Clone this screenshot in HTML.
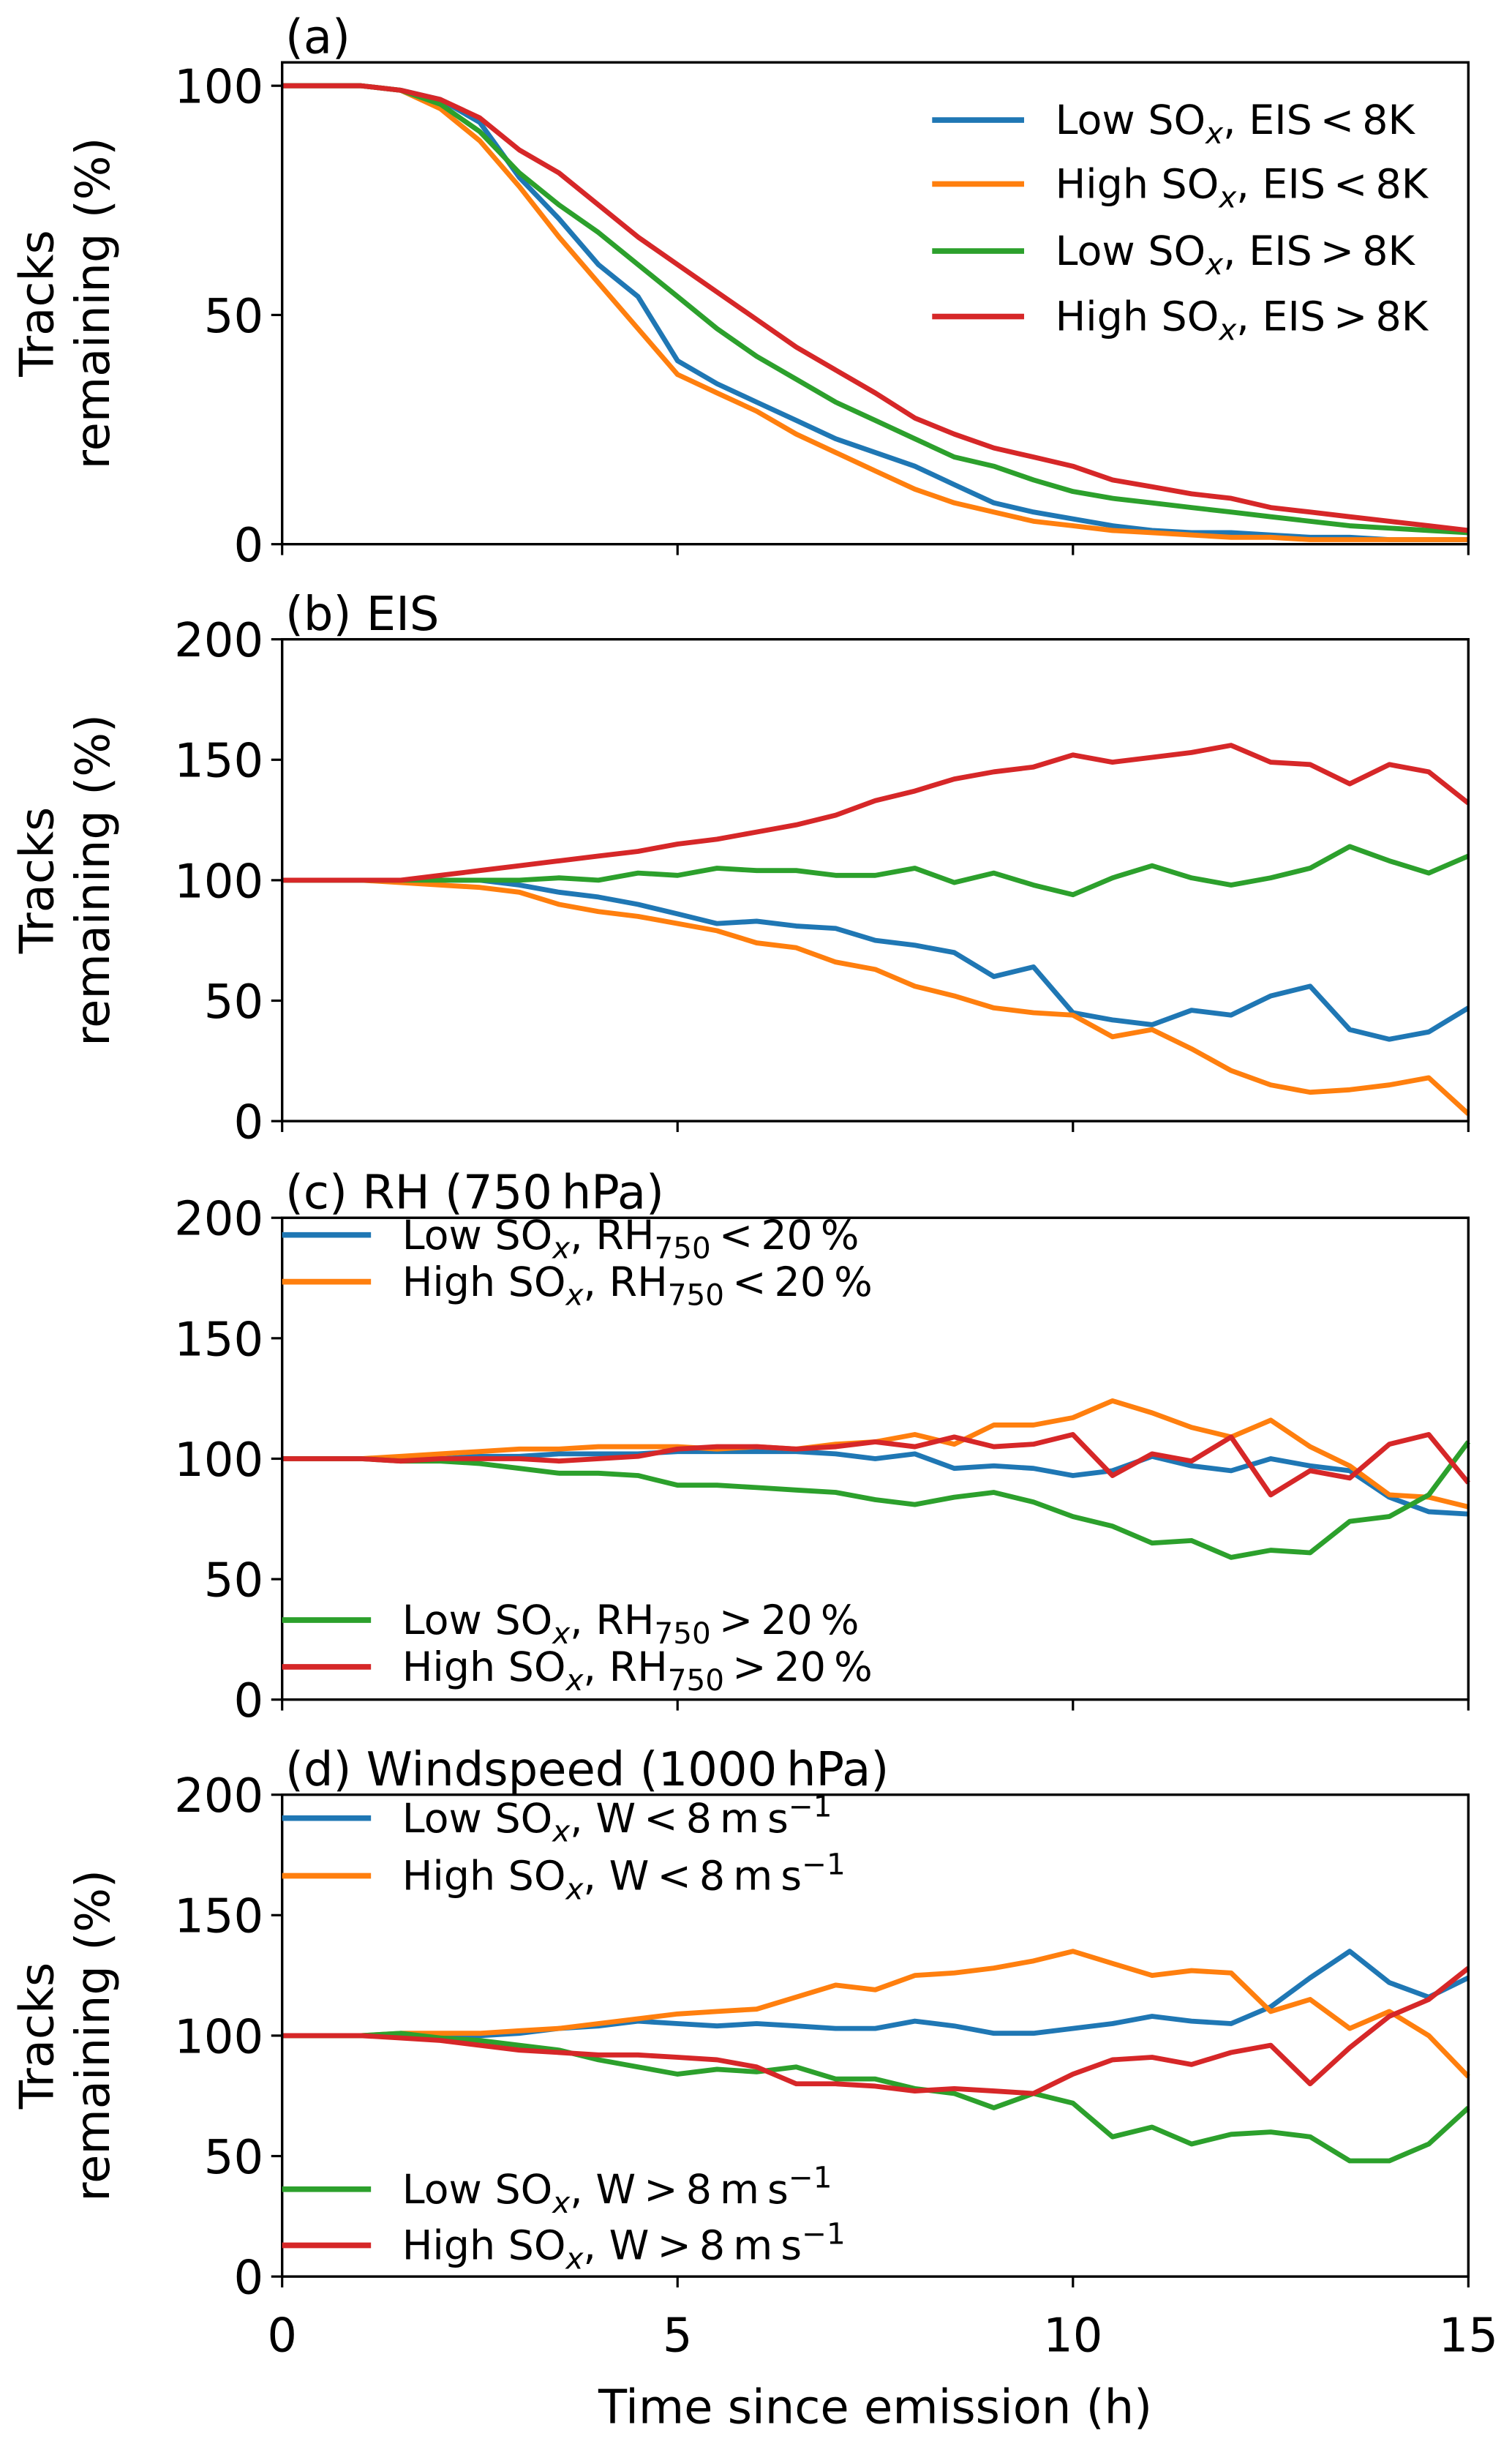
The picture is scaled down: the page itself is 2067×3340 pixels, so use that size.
<!DOCTYPE html>
<html><head><meta charset="utf-8">
<style>
html,body{margin:0;padding:0;background:#fff;}
svg{display:block;font-family:"DejaVu Sans","Liberation Sans",sans-serif;}
</style></head>
<body>
<svg id="chart" width="2067" height="3340" viewBox="0 0 970 1567.4" preserveAspectRatio="none" xmlns="http://www.w3.org/2000/svg">
<rect width="970" height="1567.4" fill="#fff"/>
<g id="g"></g>
</svg>
<script>
const times = [0,0.5,1,1.5,2,2.5,3,3.5,4,4.5,5,5.5,6,6.5,7,7.5,8,8.5,9,9.5,10,10.5,11,11.5,12,12.5,13,13.5,14,14.5,15];
const xTicks = [0,5,10,15];
const yTicksA = [0,50,100];
const yTicksB = [0,50,100,150,200];
// panel (a)
const aLowLowEIS  = [100,100,100,99,97,92,80,71,61,54,40,35,31,27,23,20,17,13,9,7,5.5,4,3,2.5,2.5,2,1.5,1.5,1,1,1];
const aHighLowEIS = [100,100,100,99,95,88,78,67,57,47,37,33,29,24,20,16,12,9,7,5,4,3,2.5,2,1.5,1.5,1,1,1,1,1];
const aLowHighEIS = [100,100,100,99,96,90,81,74,68,61,54,47,41,36,31,27,23,19,17,14,11.5,10,9,8,7,6,5,4,3.5,3,2.5];
const aHighHighEIS= [100,100,100,99,97,93,86,81,74,67,61,55,49,43,38,33,27.5,24,21,19,17,14,12.5,11,10,8,7,6,5,4,3];
// panel (b)
const bLow  = [100,100,100,100,100,100,98,95,93,90,86,82,83,81,80,75,73,70,60,64,45,42,40,46,44,52,56,38,34,37,47];
const bHigh = [100,100,100,99,98,97,95,90,87,85,82,79,74,72,66,63,56,52,47,45,44,35,38,30,21,15,12,13,15,18,3];
const bLowH = [100,100,100,100,100,100,100,101,100,103,102,105,104,104,102,102,105,99,103,98,94,101,106,101,98,101,105,114,108,103,110];
const bHighH= [100,100,100,100,102,104,106,108,110,112,115,117,120,123,127,133,137,142,145,147,152,149,151,153,156,149,148,140,148,145,132];
// panel (c)
const cLow  = [100,100,100,100,100,101,101,102,102,102,103,103,103,103,102,100,102,96,97,96,93,95,101,97,95,100,97,95,84,78,77];
const cHigh = [100,100,100,101,102,103,104,104,105,105,105,104,105,104,106,107,110,106,114,114,117,124,119,113,109,116,105,97,85,84,80];
const cLowH = [100,100,100,99,99,98,96,94,94,93,89,89,88,87,86,83,81,84,86,82,76,72,65,66,59,62,61,74,76,85,107];
const cHighH= [100,100,100,99,100,100,100,99,100,101,104,105,105,104,105,107,105,109,105,106,110,93,102,99,109,85,95,92,106,110,90];
// panel (d)
const dLow  = [100,100,100,100,100,100,101,103,104,106,105,104,105,104,103,103,106,104,101,101,103,105,108,106,105,112,124,135,122,116,124];
const dHigh = [100,100,100,101,101,101,102,103,105,107,109,110,111,116,121,119,125,126,128,131,135,130,125,127,126,110,115,103,110,100,83];
const dLowH = [100,100,100,101,99,98,96,94,90,87,84,86,85,87,82,82,78,76,70,76,72,58,62,55,59,60,58,48,48,55,70];
const dHighH= [100,100,100,99,98,96,94,93,92,92,91,90,87,80,80,79,77,78,77,76,84,90,91,88,93,96,80,95,108,115,128];

const C = {blue:"#1f77b4",orange:"#ff7f0e",green:"#2ca02c",red:"#d62728"};
const NS="http://www.w3.org/2000/svg";
const G=document.getElementById('g');
function mk(tag,attrs,parent){const e=document.createElementNS(NS,tag);for(const k in attrs)e.setAttribute(k,attrs[k]);(parent||G).appendChild(e);return e;}
const X0=181,X1=942;
function xs(t){return X0+(t/15)*(X1-X0);}

const panels=[
 {id:'a',top:40,bot:349,ymax:105.1,ticks:yTicksA,title:'(a)',ylabel:true,
  series:[[aLowLowEIS,C.blue,'low-sox-eis-lt-8k'],[aHighLowEIS,C.orange,'high-sox-eis-lt-8k'],[aLowHighEIS,C.green,'low-sox-eis-gt-8k'],[aHighHighEIS,C.red,'high-sox-eis-gt-8k']]},
 {id:'b',top:410,bot:719,ymax:200,ticks:yTicksB,title:'(b) EIS',ylabel:true,
  series:[[bLow,C.blue,'low-sox-eis-lt-8k'],[bHigh,C.orange,'high-sox-eis-lt-8k'],[bLowH,C.green,'low-sox-eis-gt-8k'],[bHighH,C.red,'high-sox-eis-gt-8k']]},
 {id:'c',top:781,bot:1090,ymax:200,ticks:yTicksB,title:'(c) RH (750\u2009hPa)',ylabel:false,
  series:[[cLow,C.blue,'low-sox-rh-lt-20'],[cHigh,C.orange,'high-sox-rh-lt-20'],[cLowH,C.green,'low-sox-rh-gt-20'],[cHighH,C.red,'high-sox-rh-gt-20']]},
 {id:'d',top:1151,bot:1460,ymax:200,ticks:yTicksB,title:'(d) Windspeed (1000\u2009hPa)',ylabel:true,
  series:[[dLow,C.blue,'low-sox-w-lt-8'],[dHigh,C.orange,'high-sox-w-lt-8'],[dLowH,C.green,'low-sox-w-gt-8'],[dHighH,C.red,'high-sox-w-gt-8']]}
];

panels.forEach(p=>{
  const pg=mk('g',{});
  
  
  const ys=v=>p.bot-(v/p.ymax)*(p.bot-p.top);
  p.series.forEach(s=>{
    const d=s[0].map((v,i)=>(i?'L':'M')+xs(times[i]).toFixed(1)+','+ys(v).toFixed(1)).join('');
    const path=mk('path',{d:d,fill:'none',stroke:s[1],'stroke-width':3.2,'stroke-linejoin':'round'},pg);
    
    
  });
  const fr=mk('rect',{x:X0,y:p.top,width:X1-X0,height:p.bot-p.top,fill:'none',stroke:'#000','stroke-width':1.6},pg);
  
  
  p.ticks.forEach(v=>{
    const y=ys(v);
    mk('line',{x1:X0-7,x2:X0,y1:y,y2:y,stroke:'#000','stroke-width':1.5},pg);
    const t=mk('text',{x:X0-12,y:y+11,'text-anchor':'end','font-size':30},pg);
    t.textContent=v;
    
    
  });
  xTicks.forEach(v=>{
    const x=xs(v);
    mk('line',{x1:x,x2:x,y1:p.bot,y2:p.bot+7,stroke:'#000','stroke-width':1.5},pg);
  });
  const tt=mk('text',{x:183,y:p.top-6,'font-size':30},pg);
  tt.textContent=p.title;
  
  
  if(p.ylabel){
    const cy=(p.top+p.bot)/2;
    const yl=mk('text',{transform:'translate(34,'+cy+') rotate(-90)','text-anchor':'middle','font-size':30},pg);
    yl.textContent='Tracks';
    
    
    const yl2=mk('text',{transform:'translate(70,'+cy+') rotate(-90)','text-anchor':'middle','font-size':30},pg);
    yl2.textContent='remaining (%)';
    
    
  }
});

xTicks.forEach(v=>{
  const t=mk('text',{x:xs(v),y:1508,'text-anchor':'middle','font-size':30});
  t.textContent=v;
  
  
});
const xl=mk('text',{x:(X0+X1)/2,y:1554,'text-anchor':'middle','font-size':30});
xl.textContent='Time since emission (h)';



function legend(x1,x2,tx,y,color,html,name){
  const g=mk('g',{});
  
  
  mk('line',{x1:x1,x2:x2,y1:y,y2:y,stroke:color,'stroke-width':3.6},g);
  const t=mk('text',{x:tx,y:y+9,'font-size':26},g);
  t.innerHTML=html;
}
const SOx='SO<tspan font-style="italic" font-size="19" dy="6">x</tspan><tspan dy="-6">,</tspan>';
const RH='RH<tspan font-size="19" dy="6">750</tspan><tspan dy="-6">';
legend(598,657,677,77,C.blue,'Low '+SOx+' EIS\u2009&lt;\u20098K','legend-entry-a1');
legend(598,657,677,118,C.orange,'High '+SOx+' EIS\u2009&lt;\u20098K','legend-entry-a2');
legend(598,657,677,161,C.green,'Low '+SOx+' EIS\u2009&gt;\u20098K','legend-entry-a3');
legend(598,657,677,203,C.red,'High '+SOx+' EIS\u2009&gt;\u20098K','legend-entry-a4');
legend(181,238,258,792,C.blue,'Low '+SOx+' '+RH+'\u2009&lt;\u200920\u2009%</tspan>','legend-entry-c1');
legend(181,238,258,822,C.orange,'High '+SOx+' '+RH+'\u2009&lt;\u200920\u2009%</tspan>','legend-entry-c2');
legend(181,238,258,1039,C.green,'Low '+SOx+' '+RH+'\u2009&gt;\u200920\u2009%</tspan>','legend-entry-c3');
legend(181,238,258,1069,C.red,'High '+SOx+' '+RH+'\u2009&gt;\u200920\u2009%</tspan>','legend-entry-c4');
const MS='m\u2009s<tspan font-size="19" dy="-10">\u22121</tspan>';
legend(181,238,258,1166,C.blue,'Low '+SOx+' W\u2009&lt;\u20098\u2009'+MS,'legend-entry-d1');
legend(181,238,258,1203,C.orange,'High '+SOx+' W\u2009&lt;\u20098\u2009'+MS,'legend-entry-d2');
legend(181,238,258,1404,C.green,'Low '+SOx+' W\u2009&gt;\u20098\u2009'+MS,'legend-entry-d3');
legend(181,238,258,1440,C.red,'High '+SOx+' W\u2009&gt;\u20098\u2009'+MS,'legend-entry-d4');
</script>
</body></html>
